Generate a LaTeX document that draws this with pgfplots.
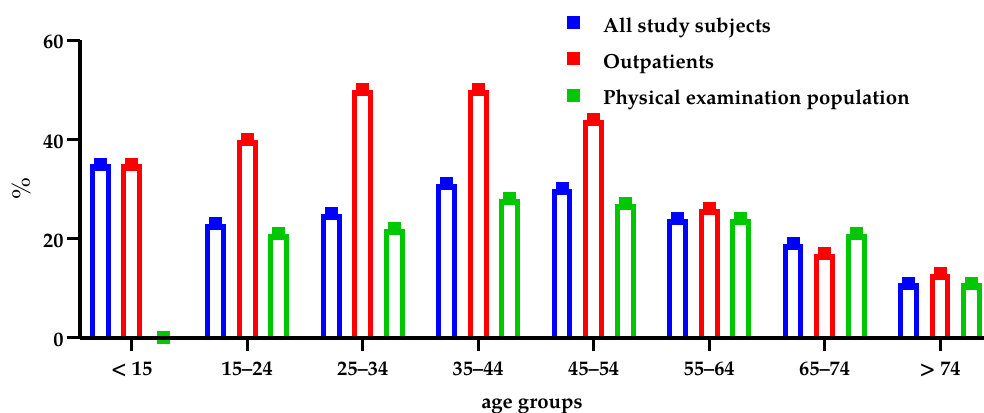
\documentclass[border=0pt]{standalone}
\usepackage{fontspec}
\setmainfont{TeX Gyre Pagella}
\usepackage{pgfplots}
\usepackage{pgfplotstable}
\pgfplotsset{compat=1.18}

\definecolor{cblue}{RGB}{0,0,255}
\definecolor{cred}{RGB}{255,0,0}
\definecolor{cgreen}{RGB}{0,200,0}

% share (%) by age group
\pgfplotstableread{
x all out phys
0 35 35 0
1 23 40 21
2 25 50 22
3 31 50 28
4 30 44 27
5 24 26 24
6 19 17 21
7 11 13 11
}\agedata

\begin{document}
\fontsize{10.2}{12.2}\selectfont
\begin{tikzpicture}
\begin{axis}[
  set layers,
  axis on top,
  scale only axis,
  width=452pt, height=148.75pt,
  xmin=-0.448, xmax=7.38,
  ymin=0, ymax=60,
  axis lines=left,
  axis line style={-, line width=2pt},
  xtick={0,...,7},
  xticklabels={< 15, 15–24, 25–34, 35–44, 45–54, 55–64, 65–74, > 74},
  ytick={0,20,40,60},
  tick align=outside,
  major tick length=6.5pt,
  tick style={line width=1.5pt, black},
  ticklabel style={font=\bfseries},
  xticklabel style={anchor=base, yshift=-12.5pt},
  yticklabel style={anchor=east, inner sep=0pt, xshift=-1.5pt, yshift=-1.2pt},
  /pgf/number format/assume math mode=true,
  xlabel={age groups},
  xlabel style={font=\bfseries, at={(rel axis cs:0.5,0)}, anchor=base, yshift=-35.4pt},
  ylabel={\%},
  ylabel style={font=\fontsize{13}{15}\selectfont, at={(rel axis cs:0,0.5)}, anchor=center, yshift=29pt},
  legend style={at={(rel axis cs:0.5387,1)}, anchor=north west, yshift=11.9pt,
    draw=none, fill=none, inner sep=0pt, row sep=8.05pt, column sep=0pt,
    font=\bfseries, nodes={inner sep=0pt, text height=7.7pt, text depth=2pt},
    cells={anchor=west}},
  legend image code/.code={\path (-3pt,-4.8pt) (14.5pt,4.8pt); \draw[#1] plot coordinates {(0pt,1.95pt)};},
]
\coordinate (bl) at (rel axis cs:0,0);
\coordinate (tr) at (rel axis cs:1,1);
% hollow bars
\addplot[ybar, bar width=0.136, bar shift=-0.273, draw=cblue, fill=white, line width=2.5pt, yshift=-1.5pt, forget plot] table[x=x, y=all] {\agedata};
\addplot[ybar, bar width=0.136, bar shift=0, draw=cred, fill=white, line width=2.5pt, yshift=-1.5pt, forget plot] table[x=x, y=out] {\agedata};
\addplot[ybar, bar width=0.136, bar shift=0.273, draw=cgreen, fill=white, line width=2.5pt, yshift=-1.5pt, forget plot] table[x=x, y=phys] {\agedata};

% square caps
\addplot[only marks, mark=square*, mark size=3pt, cblue, on layer=axis foreground] table[x expr=\thisrow{x}-0.273, y=all] {\agedata};
\addlegendentry{All study subjects}
\addplot[only marks, mark=square*, mark size=3pt, cred, on layer=axis foreground] table[x=x, y=out] {\agedata};
\addlegendentry{Outpatients}
\addplot[only marks, mark=square*, mark size=3pt, cgreen, on layer=axis foreground] table[x expr=\thisrow{x}+0.273, y=phys] {\agedata};
\addlegendentry{Physical examination population}
\end{axis}
\pgfresetboundingbox
\path[use as bounding box] ([shift={(-40pt,-37.25pt)}]bl) rectangle ([shift={(0pt,20pt)}]tr);
\end{tikzpicture}
\end{document}
